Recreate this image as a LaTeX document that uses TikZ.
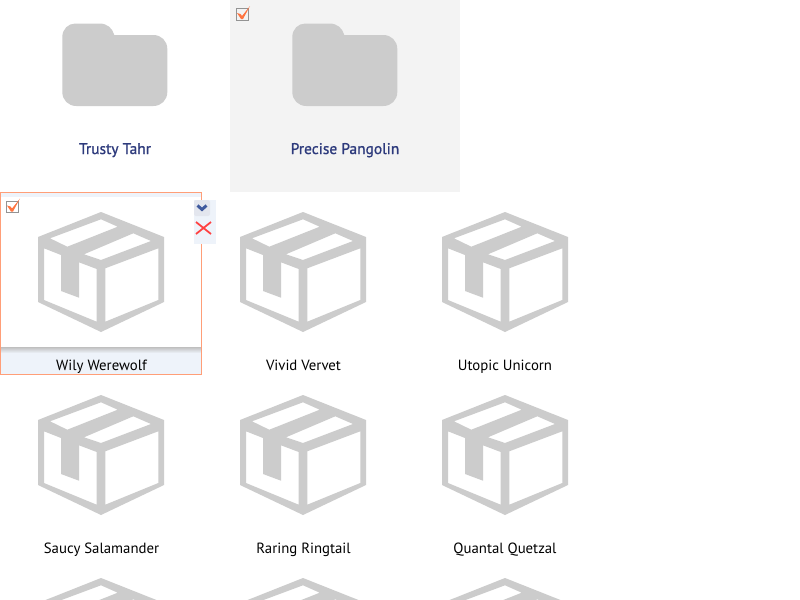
\documentclass[tikz,border=0pt]{standalone}
\usepackage{fontspec}
\setmainfont{PT Sans}
\definecolor{icongray}{HTML}{CCCCCC}
\definecolor{panelgray}{HTML}{F3F3F3}
\definecolor{selorange}{HTML}{FF9E78}
\definecolor{tickorange}{HTML}{FF7440}
\definecolor{palebar}{HTML}{EEF3FA}
\definecolor{foldertext}{HTML}{2D3A7C}
\definecolor{chevblue}{HTML}{3F5A9E}
\definecolor{btngray}{HTML}{E3E6EE}
\tikzset{
  itemlabel/.style={anchor=base,inner sep=0pt,font=\fontsize{11.1pt}{12pt}\selectfont,text=black},
  folderlabel/.style={itemlabel,text=foldertext,font=\fontsize{11.6pt}{12pt}\selectfont\addfontfeature{FakeBold=1}}
}
% box icon, #1 #2 = middle of the top corner
\newcommand{\boxicon}[2]{
\fill [icongray,even odd rule,shift={(#1,#2)}] (0,0) -- (63,25) -- (63,90) -- (0,120) -- (-63,90) -- (-63,25) -- cycle
 (-51,26.3) -- (0,7.3) -- (16.7,14.7) -- (-33.7,34.7) -- cycle
 (-17,42.3) -- (32.3,21.3) -- (50,29) -- (0,48) -- cycle
 (4.3,56.3) -- (57.3,36.3) -- (57.3,88) -- (4.3,109.7) -- cycle
 (-57,36.3) -- (-40,43) -- (-40,79) -- (-22,85.7) -- (-22,50.3) -- (-4.3,57) -- (-4.3,109.7) -- (-57,88) -- cycle ;
}
% folder icon, #1 = left edge
\newcommand{\foldericon}[1]{
\fill [icongray,shift={(#1,0)}] (0,37) .. controls (0,29) and (6,23.5) .. (13,23.5) -- (37,23.5) .. controls (45,23.5) and (50,28) .. (52,35) -- (91,35) .. controls (99,35) and (105,41) .. (105,49) -- (105,92) .. controls (105,100) and (99,106) .. (91,106) -- (14,106) .. controls (6,106) and (0,100) .. (0,92) -- cycle ;
}
% tick box, #1 #2 = top left corner
\newcommand{\tickbox}[2]{
\draw [color=gray!85,line width=0.75,shift={(#1,#2)}] (0.5,0.5) -- (12,0.5) -- (12,12) -- (0.5,12) -- cycle ;
\fill [tickorange,shift={(#1,#2)}] (1,5) -- (4.5,6) -- (6,8) -- (14,-2) -- (7,11) -- (5,11) -- cycle ;
}
\begin{document}
\begin{tikzpicture}[x=0.75pt,y=0.75pt,yscale=-1]
\useasboundingbox (0,0) rectangle (800,600);
\clip (0,0) rectangle (800,600);
\fill [white] (0,0) rectangle (800,600);

% folders
\fill [panelgray] (230,0) rectangle (460,192);
\foldericon{62.3}
\foldericon{292.3}
\tickbox{236}{8}

% selected tile
\fill [palebar] (0,192) rectangle (202,375);
\fill [white] (1,197) rectangle (201,347);
\shade [top color=black!25,bottom color=palebar] (1,347) rectangle (201,353);

% boxes
\boxicon{101}{212}
\boxicon{303}{212}
\boxicon{505}{212}
\boxicon{101}{395}
\boxicon{303}{395}
\boxicon{505}{395}
\boxicon{101}{578}
\boxicon{303}{578}
\boxicon{505}{578}

\draw [color=selorange,line width=0.75] (0.5,192.5) -- (201.5,192.5) -- (201.5,374.5) -- (0.5,374.5) -- cycle ;
\tickbox{6}{200.5}

% tile buttons
\fill [color=palebar] (194,200) rectangle (216,244);
\fill [color=btngray,rounded corners=1.5] (194,200) rectangle (210,216);
\draw [color=chevblue,line width=2.2] (197.5,205.5) -- (202,209.5) -- (206.5,205.5) ;
\draw [color=red!75,line width=1.3] (196,222) -- (211,234) (211,222) -- (196,234) ;

\node [folderlabel] (trusty) at (115,154) {Trusty Tahr};
\node [folderlabel] (precise) at (345,154) {Precise Pangolin};

\node [itemlabel] (wily) at (101.5,370) {Wily Werewolf};
\node [itemlabel] (vivid) at (303.5,370) {Vivid Vervet};
\node [itemlabel] (utopic) at (505,370) {Utopic Unicorn};
\node [itemlabel] (saucy) at (101.5,553) {Saucy Salamander};
\node [itemlabel] (raring) at (303.5,553) {Raring Ringtail};
\node [itemlabel] (quantal) at (505,553) {Quantal Quetzal};

\end{tikzpicture}
\end{document}
